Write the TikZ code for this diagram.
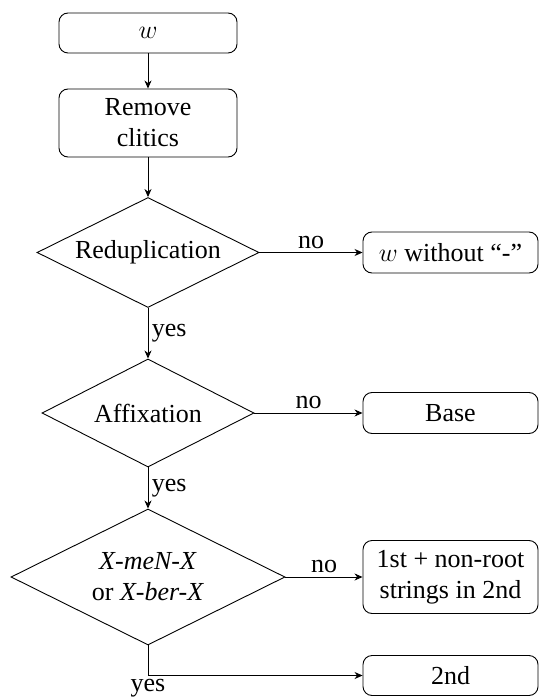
\RequirePackage{fix-cm}
\documentclass[tikz,border=0pt]{standalone}
\usepackage{fontspec}
\setmainfont{Liberation Serif}[Ligatures=TeX]
\usetikzlibrary{shapes.geometric,arrows.meta}
\begin{document}
\begin{tikzpicture}[x=1pt,y=-1pt,
  font=\rmfamily\fontsize{26}{31}\selectfont,
  line width=0.9pt,
  box/.style={draw, rounded corners=9pt, inner sep=0pt, align=center},
  dec/.style={draw, diamond, aspect=2, inner sep=0pt, align=center},
  arr/.style={-{Stealth[length=8pt,width=7pt,inset=2.5pt]}}]
\useasboundingbox (0,0) rectangle (539,700);
\node[box, minimum width=178pt, minimum height=40pt] (w) at (148,33) {$w$};
\node[box, minimum width=178pt, minimum height=68pt] (rc) at (148,123) {Remove\\clitics};
\node[dec, minimum width=222pt, minimum height=110pt] (d1) at (148,252.5) {Reduplication};
\node[box, minimum width=175pt, minimum height=41pt] (wo) at (450.5,252.5) {$w$ without ``-''};
\node[dec, minimum width=212pt, minimum height=108pt] (d2) at (148,413) {Affixation};
\node[box, minimum width=175pt, minimum height=41pt] (base) at (450.5,413) {Base};
\node[dec, minimum width=274pt, minimum height=136pt] (d3) at (148,577) {\textit{X-meN-X}\\or \textit{X-ber-X}};
\node[box, minimum width=175pt, minimum height=73pt] (nr) at (450.5,577) {1st + non-root\\strings in 2nd};
\node[box, minimum width=175pt, minimum height=40pt] (snd) at (450.5,675.5) {2nd};
\draw[arr] (w) -- (rc);
\draw[arr] (rc) -- (d1);
\draw[arr] (d1) -- node[above]{no} (wo);
\draw[arr] (d1) -- node[right]{yes} (d2);
\draw[arr] (d2) -- node[above]{no} (base);
\draw[arr] (d2) -- node[right]{yes} (d3);
\draw[arr] (d3) -- node[above]{no} (nr);
\draw[arr] (d3.south) |- node[pos=0.5,below]{yes} (snd.west);
\end{tikzpicture}
\end{document}
